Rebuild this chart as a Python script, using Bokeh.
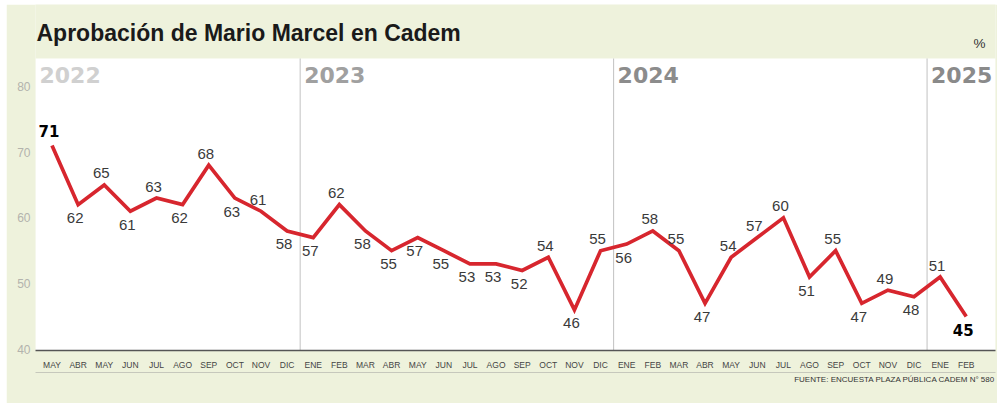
from bokeh.plotting import figure
from bokeh.models import (Range1d, FixedTicker, LinearAxis, Label, Title,
                          ColumnDataSource, BoxAnnotation)
from bokeh.core.properties import value
from bokeh.embed import file_html
from bokeh.resources import INLINE

# ---------------- data ----------------
title_text = "Aprobación de Mario Marcel en Cadem"
source_text = "FUENTE: ENCUESTA PLAZA PÚBLICA CADEM N° 580"
unit_text = "%"

months = ["MAY", "ABR", "MAY", "JUN", "JUL", "AGO", "SEP", "OCT", "NOV", "DIC",
          "ENE", "FEB", "MAR", "ABR", "MAY", "JUN", "JUL", "AGO", "SEP", "OCT", "NOV", "DIC",
          "ENE", "FEB", "MAR", "ABR", "MAY", "JUN", "JUL", "AGO", "SEP", "OCT", "NOV", "DIC",
          "ENE", "FEB"]
approval = [71, 62, 65, 61, 63, 62, 68, 63, 61, 58,
            57, 62, 58, 55, 57, 55, 53, 53, 52, 54, 46, 55,
            56, 58, 55, 47, 54, 57, 60, 51, 55, 47, 49, 48,
            51, 45]
label_side = ["a", "b", "a", "b", "a", "b", "a", "b", "a", "b",
              "b", "a", "b", "b", "b", "b", "b", "b", "b", "a", "b", "a",
              "b", "a", "a", "b", "a", "a", "a", "b", "a", "b", "a", "b",
              "a", "b"]
years = ["2022", "2023", "2024", "2025"]
year_start = [0, 10, 22, 34]
y_ticks = [40, 50, 60, 70, 80]

# ---------------- style / layout ----------------
BG = "#eef2dc"
RED = "#d7262e"
year_colors = ["#d0d0d0", "#a0a0a0", "#8c8c8c", "#8a8a8a"]

PXU = 6.58          # pixels per percentage point
x_lo, x_hi = -0.632, 36.12
y_lo = 39.833       # frame bottom
y_white = 84.21     # top of the white plotting area
y_hi = y_white + 54 / PXU   # frame extends up over the header band

p = figure(width=991, height=399,
           x_range=Range1d(x_lo, x_hi), y_range=Range1d(y_lo, y_hi),
           output_backend="svg", toolbar_location=None, title_location=None,
           min_border_left=29, min_border_right=2,
           min_border_top=0, min_border_bottom=53,
           background_fill_color=BG, border_fill_color=BG,
           outline_line_color=None, margin=(4, 0, 0, 6))
p.grid.visible = False

# white plotting area
p.add_layout(BoxAnnotation(left=x_lo, right=x_hi, bottom=y_lo, top=y_white,
                           fill_color="white", fill_alpha=1.0,
                           line_color=None, level="underlay"))

# x axis
n = len(approval)
x_idx = list(range(n))
xa = p.xaxis[0]
xa.ticker = FixedTicker(ticks=x_idx)
xa.major_label_overrides = {i: m for i, m in enumerate(months)}
xa.major_tick_line_color = None
xa.minor_tick_line_color = None
xa.major_tick_out = 0
xa.major_tick_in = 0
xa.minor_tick_out = 0
xa.minor_tick_in = 0
xa.axis_line_color = "#555555"
xa.axis_line_width = 1.5
xa.major_label_text_font = "Liberation Sans"
xa.major_label_text_font_size = "8.5px"
xa.major_label_text_color = "#444444"
xa.major_label_standoff = 9

ax2 = LinearAxis(ticker=FixedTicker(ticks=[]), axis_line_color="#c6c8bc",
                 axis_line_width=1, major_tick_line_color=None,
                 minor_tick_line_color=None, major_tick_out=0, major_tick_in=0,
                 minor_tick_out=0, minor_tick_in=0,
                 major_label_text_font_size="0px")
p.add_layout(ax2, "below")

# y axis
ya = p.yaxis[0]
ya.ticker = FixedTicker(ticks=y_ticks)
ya.axis_line_color = None
ya.major_tick_line_color = None
ya.minor_tick_line_color = None
ya.major_tick_out = 0
ya.minor_tick_out = 0
ya.major_label_text_font = "Liberation Sans"
ya.major_label_text_font_size = "12px"
ya.major_label_text_color = "#b3b3ad"
ya.major_label_standoff = 5

# year separators
seps = [s - 0.5 for s in year_start[1:]]
p.segment(x0=seps, y0=[y_lo] * len(seps), x1=seps, y1=[y_white] * len(seps),
          line_color="#c2c2c2", line_width=1)

# year labels
ysrc = ColumnDataSource(dict(x=[x_lo] + seps, y=[y_white] * len(years),
                             t=years, c=year_colors))
p.text(x="x", y="y", text="t", source=ysrc, text_color="c",
       text_font=value("DejaVu Sans"), text_font_style="bold",
       text_font_size="22px", text_baseline="middle", text_align="left",
       x_offset=4, y_offset=17)

# line
p.line(x_idx, approval, line_color=RED, line_width=3.7, line_join="miter")

# value labels
last = n - 1
is_bold = [i in (0, last) for i in range(n)]
lsrc = ColumnDataSource(dict(
    x=x_idx, y=approval, t=[str(v) for v in approval],
    dy=[(-14 if b else -11.5) if s == "a" else (13 if b else 13.5)
        for s, b in zip(label_side, is_bold)],
    st=["bold" if b else "normal" for b in is_bold],
    fn=["DejaVu Sans" if b else "Liberation Sans" for b in is_bold],
    c=["#000000" if b else "#3a3a3a" for b in is_bold],
))
p.text(x="x", y="y", text="t", source=lsrc, text_color="c",
       text_font="fn", text_font_style="st", text_font_size="15px",
       text_align="center", text_baseline="middle", x_offset=-3, y_offset="dy")

# header texts (inside the header band of the frame)
p.add_layout(Label(x=x_lo, y=y_white + 25 / PXU, text=title_text,
                   text_font="Liberation Sans", text_font_size="23px",
                   text_font_style="bold", text_color="#1a1a1a",
                   text_align="left", text_baseline="middle", x_offset=1))
p.add_layout(Label(x=x_hi, y=y_white + 14.7 / PXU, text=unit_text,
                   text_font="Liberation Sans", text_font_size="13.5px",
                   text_color="#333333", text_align="right",
                   text_baseline="middle", x_offset=-10))

# source
p.add_layout(Title(text=source_text, align="right", text_font="Liberation Sans",
                   text_font_size="8px", text_font_style="normal",
                   text_color="#333333", standoff=1), "below")

open("out.html", "w").write(file_html(p, INLINE))
